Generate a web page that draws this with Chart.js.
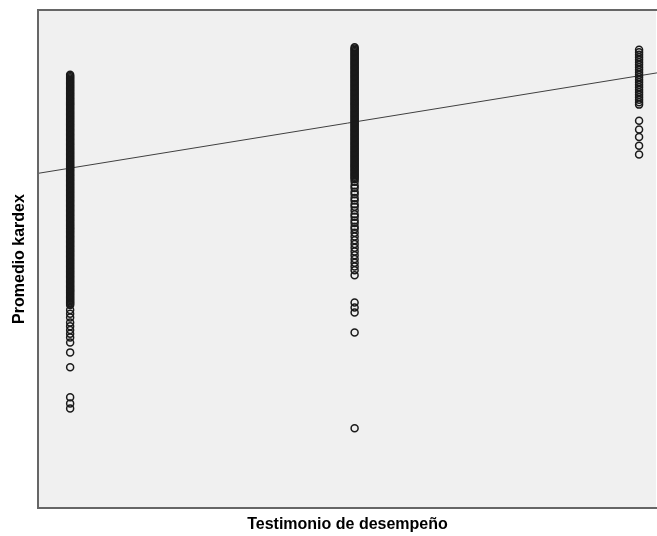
<!DOCTYPE html>
<html>
<head>
<meta charset="utf-8">
<script src="https://cdn.jsdelivr.net/npm/chart.js@4/dist/chart.umd.min.js"></script>
<style>
html, body { margin: 0; padding: 0; background: #ffffff; overflow: hidden; }
#wrap { width: 657px; height: 536px; position: relative; }
#chartDispersion { display: block; }
</style>
</head>
<body>
<div id="wrap"><canvas id="chartDispersion"></canvas></div>
<script>
// Testimonio de desempeño (códigos de grupo)
var testimonioCodigos = [1, 2, 3];

var kardexGrupo1 = [
  9.48, 9.47, 9.46, 9.45, 9.44, 9.43, 9.42, 9.41, 9.40, 9.39,
  9.38, 9.37, 9.36, 9.35, 9.34, 9.33, 9.32, 9.31, 9.30, 9.29,
  9.28, 9.27, 9.26, 9.25, 9.24, 9.23, 9.22, 9.21, 9.20, 9.19,
  9.18, 9.17, 9.16, 9.15, 9.14, 9.13, 9.12, 9.11, 9.10, 9.09,
  9.08, 9.07, 9.06, 9.05, 9.04, 9.03, 9.02, 9.01, 9.00, 8.99,
  8.98, 8.97, 8.96, 8.95, 8.94, 8.93, 8.92, 8.91, 8.90, 8.89,
  8.88, 8.87, 8.86, 8.85, 8.84, 8.83, 8.82, 8.81, 8.80, 8.79,
  8.78, 8.77, 8.76, 8.75, 8.74, 8.73, 8.72, 8.71, 8.70, 8.69,
  8.68, 8.67, 8.66, 8.65, 8.64, 8.63, 8.62, 8.61, 8.60, 8.59,
  8.58, 8.57, 8.56, 8.55, 8.54, 8.53, 8.52, 8.51, 8.50, 8.49,
  8.48, 8.47, 8.46, 8.45, 8.44, 8.43, 8.42, 8.41, 8.40, 8.39,
  8.38, 8.37, 8.36, 8.35, 8.34, 8.33, 8.32, 8.31, 8.30, 8.29,
  8.28, 8.27, 8.26, 8.25, 8.24, 8.23, 8.22, 8.21, 8.20, 8.19,
  8.18, 8.17, 8.16, 8.15, 8.14, 8.13, 8.12, 8.11, 8.10, 8.09,
  8.08, 8.07, 8.06, 8.05, 8.04, 8.03, 8.02, 8.01, 8.00, 7.99,
  7.98, 7.97, 7.96, 7.95, 7.94, 7.93, 7.92, 7.91, 7.90, 7.89,
  7.88, 7.87, 7.86, 7.85, 7.84, 7.83, 7.82, 7.81, 7.80, 7.79,
  7.78, 7.77, 7.76, 7.75, 7.74, 7.73, 7.72, 7.71, 7.70, 7.69,
  7.68, 7.67, 7.66, 7.65, 7.64, 7.63,
  7.59, 7.56, 7.53, 7.49, 7.46, 7.43, 7.40, 7.37, 7.33, 7.25,
  7.13, 6.89, 6.84, 6.80
];
var kardexGrupo2 = [
  9.70, 9.69, 9.68, 9.67, 9.66, 9.65, 9.64, 9.63, 9.62, 9.61,
  9.60, 9.59, 9.58, 9.57, 9.56, 9.55, 9.54, 9.53, 9.52, 9.51,
  9.50, 9.49, 9.48, 9.47, 9.46, 9.45, 9.44, 9.43, 9.42, 9.41,
  9.40, 9.39, 9.38, 9.37, 9.36, 9.35, 9.34, 9.33, 9.32, 9.31,
  9.30, 9.29, 9.28, 9.27, 9.26, 9.25, 9.24, 9.23, 9.22, 9.21,
  9.20, 9.19, 9.18, 9.17, 9.16, 9.15, 9.14, 9.13, 9.12, 9.11,
  9.10, 9.09, 9.08, 9.07, 9.06, 9.05, 9.04, 9.03, 9.02, 9.01,
  9.00, 8.99, 8.98, 8.97, 8.96, 8.95, 8.94, 8.93, 8.92, 8.91,
  8.90, 8.89, 8.88, 8.87, 8.86, 8.85, 8.84, 8.83, 8.82, 8.81,
  8.80, 8.79, 8.78, 8.77, 8.76, 8.75, 8.74, 8.73, 8.72, 8.71,
  8.70, 8.69, 8.68, 8.67, 8.66, 8.65, 8.64,
  8.62, 8.59, 8.57, 8.54, 8.52, 8.49, 8.47, 8.44, 8.42, 8.39,
  8.36, 8.34, 8.31, 8.29, 8.26, 8.24, 8.21, 8.18, 8.15, 8.12,
  8.09, 8.06, 8.03, 8.00, 7.97, 7.94, 7.91, 7.87,
  7.65, 7.61, 7.57, 7.41, 6.64
];
var kardexGrupo3 = [
  9.68, 9.66, 9.64, 9.62, 9.60, 9.58, 9.56, 9.54, 9.52, 9.50,
  9.48, 9.46, 9.44, 9.42, 9.40, 9.38, 9.36, 9.34, 9.32, 9.30,
  9.28, 9.26, 9.24,
  9.11, 9.04, 8.98, 8.91, 8.84
];

// Recta de ajuste (extremos del eje X)
var ajusteX = [0.887, 3.063];
var ajusteY = [8.688, 9.495];

// Límites de ejes
var rangoX = [0.887, 3.063];
var rangoY = [6.0, 10.0];

var grupos = [kardexGrupo1, kardexGrupo2, kardexGrupo3];
var puntos = [];
for (var gi = 0; gi < grupos.length; gi++) {
  for (var pi = 0; pi < grupos[gi].length; pi++) {
    puntos.push({ x: testimonioCodigos[gi], y: grupos[gi][pi] });
  }
}
var recta = [];
for (var ri = 0; ri < ajusteX.length; ri++) {
  recta.push({ x: ajusteX[ri], y: ajusteY[ri] });
}

// fondo gris y marco del área de trazado
var marcoPlugin = {
  id: 'marco',
  beforeDraw: function(chart) {
    var a = chart.chartArea, c = chart.ctx;
    c.save();
    c.fillStyle = '#f0f0f0';
    c.fillRect(a.left, a.top, a.right - a.left - 1, a.bottom - a.top);
    c.restore();
  },
  afterDraw: function(chart) {
    var a = chart.chartArea, c = chart.ctx;
    c.save();
    c.strokeStyle = '#666666';
    c.lineWidth = 2;
    c.beginPath();
    c.moveTo(a.right + 2, a.top);
    c.lineTo(a.left, a.top);
    c.lineTo(a.left, a.bottom);
    c.lineTo(a.right + 2, a.bottom);
    c.stroke();
    c.restore();
  }
};

var tituloFuente = { family: '"Liberation Sans", Arial, sans-serif', size: 16, weight: 'bold' };

new Chart(document.getElementById('chartDispersion'), {
  type: 'scatter',
  data: {
    datasets: [{
      label: 'Promedio kardex',
      data: puntos,
      pointStyle: 'circle',
      pointRadius: 3.5,
      pointHoverRadius: 3.5,
      backgroundColor: 'rgba(0,0,0,0)',
      borderColor: '#1a1a1a',
      borderWidth: 1.5
    }, {
      type: 'line',
      label: 'Ajuste',
      data: recta,
      pointRadius: 0,
      borderColor: '#404040',
      borderWidth: 1,
      fill: false
    }]
  },
  options: {
    responsive: true,
    maintainAspectRatio: false,
    animation: false,
    layout: { autoPadding: false, padding: { top: 10, right: 0, left: 0, bottom: 0 } },
    plugins: { legend: { display: false }, tooltip: { enabled: false } },
    scales: {
      x: {
        type: 'linear',
        min: rangoX[0], max: rangoX[1],
        grid: { display: false },
        border: { display: false },
        ticks: { display: false },
        title: { display: true, text: 'Testimonio de desempeño', color: '#000', font: tituloFuente, padding: { top: 0, bottom: 2 } },
        afterFit: function(scale) { scale.height = 28; }
      },
      y: {
        type: 'linear',
        min: rangoY[0], max: rangoY[1],
        grid: { display: false },
        border: { display: false },
        ticks: { display: false },
        title: { display: true, text: 'Promedio kardex', color: '#000', font: tituloFuente, padding: { top: 10, bottom: 0 } },
        afterFit: function(scale) { scale.width = 38; }
      }
    }
  },
  plugins: [marcoPlugin]
});
</script>
</body>
</html>
